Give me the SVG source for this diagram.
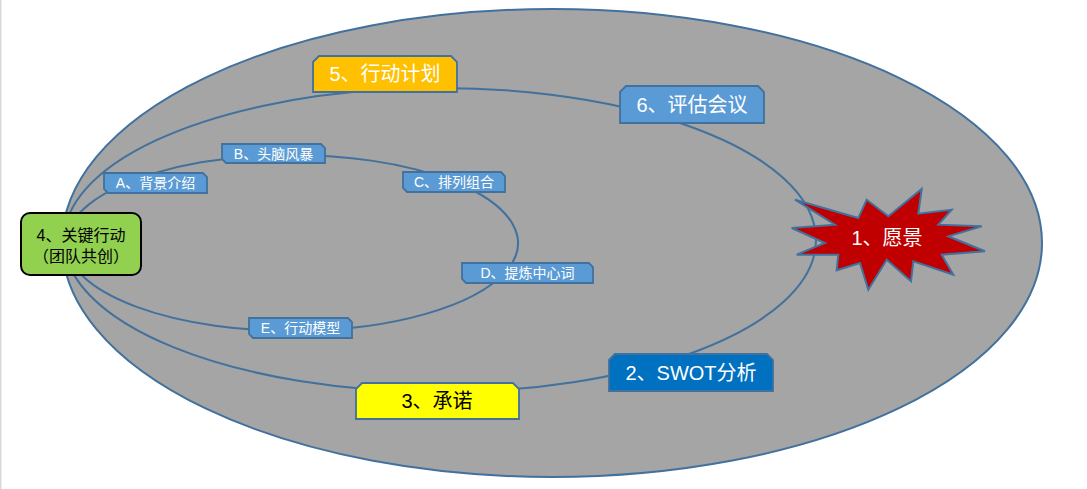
<svg xmlns="http://www.w3.org/2000/svg" width="1087" height="489" viewBox="0 0 1087 489">
<style>
text{font-family:"Liberation Sans","Noto Sans CJK SC",sans-serif;text-anchor:middle;dominant-baseline:central}
.line{fill:none;stroke:#41719C;stroke-width:2}
.box{stroke:#41719C;stroke-width:1.8}
.small{fill:#5B9BD5}
.st{font-size:14px;fill:#ffffff}
.bt{font-size:20px}
</style>
<rect x="0" y="0" width="1087" height="489" fill="#ffffff"/>
<rect x="0" y="0" width="1.5" height="489" fill="#D9D9D9"/>
<g id="background-ellipse">
<ellipse cx="552" cy="243" rx="490" ry="234" fill="#A5A5A5" stroke="#41719C" stroke-width="2"/>
</g>
<g id="connectors">
<path class="line" d="M64,240 A376,152 0 0 1 385,89.6"/>
<path class="line" d="M385,89.6 A376,152 0 0 1 692,127.2"/>
<path class="line" d="M692,127.2 A376,152 0 0 1 816,240"/>
<path class="line" d="M816,240 A376,152 0 0 1 691,353.2"/>
<path class="line" d="M691,353.2 A376,152 0 0 1 437.5,392"/>
<path class="line" d="M437.5,392 A376,152 0 0 1 64,240"/>
<path class="line" d="M66,243 A226,88 0 0 1 155.5,172.9"/>
<path class="line" d="M155.5,172.9 A226,88 0 0 1 273.5,155.3"/>
<path class="line" d="M273.5,155.3 A226,88 0 0 1 454,181.7"/>
<path class="line" d="M454,181.7 A226,88 0 0 1 505,272.4"/>
<path class="line" d="M505,272.4 A226,88 0 0 1 300.5,330.9"/>
<path class="line" d="M300.5,330.9 A226,88 0 0 1 66,243"/>
</g>
<g id="node-1">
<polygon points="921.7,189 918.3,213.7 951.7,209.7 938.3,224.7 981.7,226.3 948.3,236.3 985,251.3 941.7,254.7 953.3,274.7 913.3,261.3 911,281.3 886.7,259.7 868.3,289.7 860,263 836.7,270.3 838.3,254.7 796.7,254.7 825,243 791.7,228 835,224.7 795,199.7 858.3,218 866.7,199.7 888.3,216.3" fill="#C00000" stroke="#41719C" stroke-width="2" stroke-linejoin="miter"/>
<text class="bt" x="887" y="238" fill="#ffffff">1、愿景</text>
</g>
<g id="node-2">
<path class="box" d="M609,360 L615,354 L767,354 L773,360 L773,391 L609,391 Z" fill="#0070C0"/>
<text class="bt" x="691" y="372.5" fill="#ffffff">2、SWOT分析</text>
</g>
<g id="node-3">
<path class="box" d="M356,389 L362,383 L513,383 L519,389 L519,419 L356,419 Z" fill="#FFFF00"/>
<text class="bt" x="437" y="401" fill="#000000">3、承诺</text>
</g>
<g id="node-4">
<rect x="21" y="213" width="120" height="62" rx="9" ry="9" fill="#92D050" stroke="#000000" stroke-width="2"/>
<text x="81" y="235" font-size="16" fill="#000000">4、关键行动</text>
<text x="81" y="256" font-size="16" fill="#000000">（团队共创）</text>
</g>
<g id="node-5">
<path class="box" d="M313,62 L319,56 L451,56 L457,62 L457,92 L313,92 Z" fill="#FFC000"/>
<text class="bt" x="385" y="74" fill="#ffffff">5、行动计划</text>
</g>
<g id="node-6">
<path class="box" d="M620,92 L626,86 L758,86 L764,92 L764,123 L620,123 Z" fill="#5B9BD5"/>
<text class="bt" x="692" y="104.5" fill="#ffffff">6、评估会议</text>
</g>
<g id="node-A">
<path class="box small" d="M104,173 L203,173 L207,177 L207,193 L108,193 L104,189 Z"/>
<text class="st" x="155.5" y="183">A、背景介绍</text>
</g>
<g id="node-B">
<path class="box small" d="M222,144 L321,144 L325,148 L325,163 L226,163 L222,159 Z"/>
<text class="st" x="273.5" y="153.5">B、头脑风暴</text>
</g>
<g id="node-C">
<path class="box small" d="M403,172 L501,172 L505,176 L505,192 L407,192 L403,188 Z"/>
<text class="st" x="454" y="182">C、排列组合</text>
</g>
<g id="node-D">
<path class="box small" d="M462,263 L589,263 L593,267 L593,283 L466,283 L462,279 Z"/>
<text class="st" x="527.5" y="273">D、提炼中心词</text>
</g>
<g id="node-E">
<path class="box small" d="M249,318 L348,318 L352,322 L352,338 L253,338 L249,334 Z"/>
<text class="st" x="300.5" y="328">E、行动模型</text>
</g>
</svg>
